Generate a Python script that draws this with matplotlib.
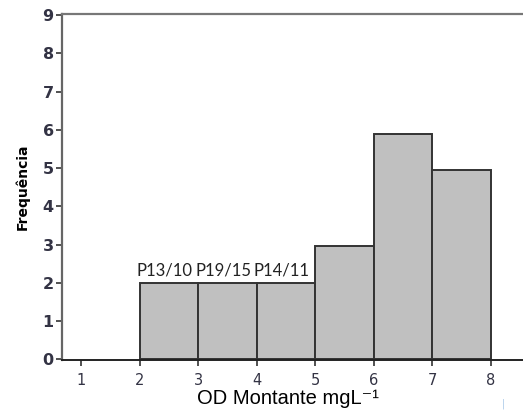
import matplotlib.pyplot as plt
import numpy as np

# histogram bins (OD upstream, mg/L) and counts per bin
bin_edges = [2, 3, 4, 5, 6, 7, 8]
counts = [2, 2, 2, 2.95, 5.9, 4.95]
# sample labels placed over the first three bins
bar_labels = ["P13/10", "P19/15", "P14/11"]

x_ticks = [1, 2, 3, 4, 5, 6, 7, 8]
y_ticks = list(range(0, 10))

fig = plt.figure(figsize=(5.23, 4.15), dpi=100)
ax = fig.add_axes([0.1185, 0.1325, 0.8815, 0.834])

lefts = np.array(bin_edges[:-1])
widths = np.diff(bin_edges)
ax.bar(lefts, counts, width=widths, align="edge", color="#c0c0c0",
       edgecolor="#333333", linewidth=1.4)

for left, w, h, lab in zip(lefts, widths, counts, bar_labels):
    ax.text(left + w / 2 - 0.07, h + 0.1, lab, ha="center", va="bottom",
            fontsize=12, family="Lato", color="#222222")

ax.set_xlim(0.675, 8.55)
ax.set_ylim(-0.02, 9.03)
ax.set_xticks(x_ticks)
ax.set_yticks(y_ticks)
ax.tick_params(axis="both", direction="out", length=4, width=1.2, color="#333333")
ax.tick_params(axis="y", labelsize=11.5, pad=2, labelcolor="#333344")
ax.tick_params(axis="x", labelsize=10.5, pad=5, labelcolor="#333344")
for t in ax.get_yticklabels():
    t.set_fontweight("semibold")

ax.spines["right"].set_visible(False)
ax.spines["left"].set_color("#666666")
ax.spines["left"].set_linewidth(1.6)
ax.spines["top"].set_color("#777777")
ax.spines["top"].set_linewidth(1.6)
ax.spines["bottom"].set_color("#222222")
ax.spines["bottom"].set_linewidth(1.4)

ax.set_ylabel("Frequência", fontsize=10, fontweight="bold", labelpad=9,
              family=["Liberation Sans Narrow", "DejaVu Sans"])
ax.set_xlabel("OD Montante mgL⁻¹", fontsize=14.5,
              family=["Liberation Sans", "DejaVu Sans"], labelpad=1, x=0.49)

fig.text(0.962, 0.02, "|", fontsize=7, color="#a8c8e8", ha="center")

fig.savefig("out.png", dpi=100)
